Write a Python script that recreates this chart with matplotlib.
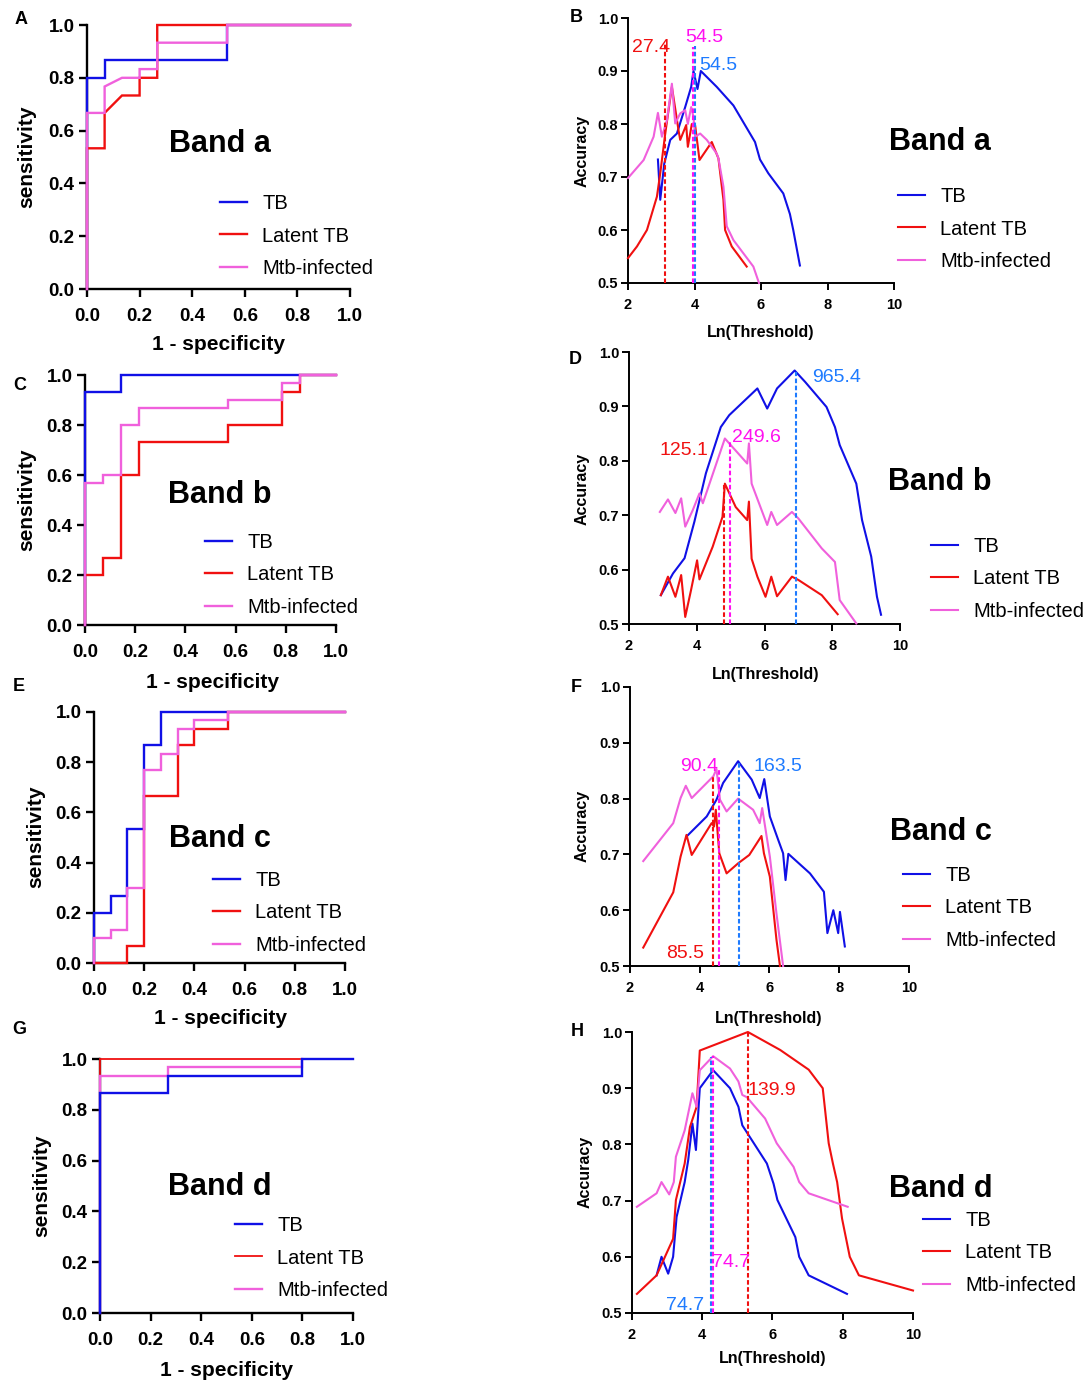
import matplotlib
matplotlib.use('Agg')
import matplotlib.pyplot as plt

plt.rcParams['font.family'] = ['Liberation Sans', 'DejaVu Sans']

# ---------------- data ----------------
groups = ['TB', 'Latent TB', 'Mtb-infected']
band_names = ['Band a', 'Band b', 'Band c', 'Band d']

# ROC curves (1 - specificity, sensitivity)
rocA_TB_x = [0, 0, 0.067, 0.067, 0.533, 0.533, 1.0]
rocA_TB_y = [0, 0.8, 0.8, 0.867, 0.867, 1.0, 1.0]
rocA_LTB_x = [0, 0, 0.067, 0.067, 0.133, 0.2, 0.2, 0.267, 0.267, 1.0]
rocA_LTB_y = [0, 0.533, 0.533, 0.667, 0.733, 0.733, 0.8, 0.8, 1.0, 1.0]
rocA_MTB_x = [0, 0, 0.067, 0.067, 0.133, 0.2, 0.2, 0.267, 0.267, 0.533, 0.533, 1.0]
rocA_MTB_y = [0, 0.667, 0.667, 0.767, 0.8, 0.8, 0.833, 0.833, 0.933, 0.933, 1.0, 1.0]

rocB_TB_x = [0, 0, 0.143, 0.143, 1.0]
rocB_TB_y = [0, 0.933, 0.933, 1.0, 1.0]
rocB_LTB_x = [0, 0, 0.071, 0.071, 0.143, 0.143, 0.214, 0.214, 0.571, 0.571, 0.786, 0.786, 0.857, 0.857, 1.0]
rocB_LTB_y = [0, 0.2, 0.2, 0.267, 0.267, 0.6, 0.6, 0.733, 0.733, 0.8, 0.8, 0.933, 0.933, 1.0, 1.0]
rocB_MTB_x = [0, 0, 0.071, 0.071, 0.143, 0.143, 0.214, 0.214, 0.571, 0.571, 0.786, 0.786, 0.857, 0.857, 1.0]
rocB_MTB_y = [0, 0.567, 0.567, 0.6, 0.6, 0.8, 0.8, 0.867, 0.867, 0.9, 0.9, 0.967, 0.967, 1.0, 1.0]

rocC_TB_x = [0, 0, 0.067, 0.067, 0.133, 0.133, 0.2, 0.2, 0.267, 0.267, 1.0]
rocC_TB_y = [0, 0.2, 0.2, 0.267, 0.267, 0.533, 0.533, 0.867, 0.867, 1.0, 1.0]
rocC_LTB_x = [0, 0.133, 0.133, 0.2, 0.2, 0.333, 0.333, 0.4, 0.4, 0.533, 0.533, 1.0]
rocC_LTB_y = [0, 0, 0.067, 0.067, 0.667, 0.667, 0.867, 0.867, 0.933, 0.933, 1.0, 1.0]
rocC_MTB_x = [0, 0, 0.067, 0.067, 0.133, 0.133, 0.2, 0.2, 0.267, 0.267, 0.333, 0.333, 0.4, 0.4, 0.533, 0.533, 1.0]
rocC_MTB_y = [0, 0.1, 0.1, 0.133, 0.133, 0.3, 0.3, 0.767, 0.767, 0.833, 0.833, 0.933, 0.933, 0.967, 0.967, 1.0, 1.0]

rocD_TB_x = [0, 0, 0.267, 0.267, 0.8, 0.8, 1.0]
rocD_TB_y = [0, 0.867, 0.867, 0.933, 0.933, 1.0, 1.0]
rocD_LTB_x = [0, 0, 0.8]
rocD_LTB_y = [0, 1.0, 1.0]
rocD_MTB_x = [0, 0, 0.267, 0.267, 0.8, 0.8]
rocD_MTB_y = [0, 0.933, 0.933, 0.967, 0.967, 1.0]

# Accuracy vs Ln(Threshold)
accA_TB_x = [2.9, 2.97, 3.09, 3.27, 3.47, 3.72, 3.9, 3.97, 4.09, 4.19, 4.67, 5.17, 5.82, 5.97, 6.22, 6.67, 6.87, 6.97, 7.17]
accA_TB_y = [0.733, 0.657, 0.725, 0.77, 0.782, 0.832, 0.87, 0.9, 0.866, 0.9, 0.87, 0.835, 0.766, 0.733, 0.707, 0.669, 0.63, 0.6, 0.533]
accA_LTB_x = [2.0, 2.27, 2.57, 2.87, 2.97, 3.12, 3.32, 3.52, 3.57, 3.75, 3.8, 3.92, 4.02, 4.15, 4.52, 4.72, 4.87, 4.92, 5.12, 5.57]
accA_LTB_y = [0.547, 0.569, 0.6, 0.663, 0.707, 0.782, 0.87, 0.788, 0.77, 0.798, 0.757, 0.8, 0.797, 0.732, 0.766, 0.735, 0.657, 0.6, 0.569, 0.531]
accA_MTB_x = [2.0, 2.47, 2.77, 2.9, 3.02, 3.17, 3.32, 3.42, 3.57, 3.72, 3.8, 3.9, 3.97, 4.02, 4.17, 4.37, 4.67, 4.72, 4.87, 4.97, 5.17, 5.77, 5.94]
accA_MTB_y = [0.698, 0.732, 0.776, 0.821, 0.776, 0.807, 0.876, 0.801, 0.82, 0.826, 0.8, 0.832, 0.813, 0.776, 0.782, 0.77, 0.744, 0.735, 0.682, 0.607, 0.581, 0.531, 0.5]

accB_TB_x = [2.94, 3.30, 3.64, 3.93, 4.27, 4.71, 4.96, 5.79, 6.08, 6.37, 6.89, 7.2, 7.83, 8.08, 8.22, 8.71, 8.88, 9.15, 9.32, 9.44]
accB_TB_y = [0.553, 0.593, 0.621, 0.688, 0.777, 0.862, 0.884, 0.933, 0.896, 0.933, 0.966, 0.945, 0.899, 0.862, 0.829, 0.758, 0.691, 0.624, 0.55, 0.517]
accB_LTB_x = [2.94, 3.15, 3.37, 3.54, 3.66, 3.83, 4.01, 4.08, 4.47, 4.76, 4.83, 5.15, 5.49, 5.54, 5.62, 5.79, 6.03, 6.2, 6.37, 6.81, 7.0, 7.69, 8.16]
accB_LTB_y = [0.553, 0.587, 0.55, 0.59, 0.513, 0.562, 0.617, 0.582, 0.642, 0.697, 0.758, 0.715, 0.691, 0.725, 0.62, 0.587, 0.55, 0.587, 0.551, 0.587, 0.581, 0.553, 0.518]
accB_MTB_x = [2.91, 3.15, 3.37, 3.54, 3.66, 3.88, 4.08, 4.18, 4.83, 5.49, 5.54, 5.62, 6.08, 6.2, 6.37, 6.81, 7.0, 7.69, 8.08, 8.22, 8.71]
accB_MTB_y = [0.706, 0.729, 0.704, 0.731, 0.679, 0.709, 0.74, 0.722, 0.841, 0.795, 0.832, 0.758, 0.682, 0.706, 0.682, 0.706, 0.694, 0.639, 0.614, 0.544, 0.501]

accC_TB_x = [3.62, 4.2, 4.48, 4.67, 5.1, 5.49, 5.72, 5.85, 6.01, 6.25, 6.39, 6.46, 6.54, 7.16, 7.56, 7.66, 7.83, 7.97, 8.02, 8.16]
accC_TB_y = [0.732, 0.768, 0.798, 0.828, 0.867, 0.834, 0.801, 0.835, 0.768, 0.726, 0.702, 0.654, 0.701, 0.666, 0.633, 0.559, 0.6, 0.559, 0.597, 0.535]
accC_LTB_x = [2.38, 3.24, 3.45, 3.62, 3.77, 4.1, 4.34, 4.41, 4.46, 4.56, 4.77, 5.1, 5.42, 5.77, 5.84, 6.01, 6.2, 6.3]
accC_LTB_y = [0.533, 0.632, 0.696, 0.735, 0.699, 0.732, 0.756, 0.75, 0.78, 0.702, 0.666, 0.684, 0.699, 0.733, 0.702, 0.66, 0.547, 0.5]
accC_MTB_x = [2.38, 3.24, 3.45, 3.6, 3.77, 4.39, 4.48, 4.58, 4.77, 5.1, 5.53, 5.72, 5.79, 6.01, 6.2, 6.39]
accC_MTB_y = [0.688, 0.756, 0.801, 0.823, 0.801, 0.84, 0.853, 0.798, 0.777, 0.8, 0.78, 0.756, 0.783, 0.696, 0.594, 0.5]

accD_TB_x = [2.7, 2.84, 3.03, 3.17, 3.27, 3.5, 3.6, 3.72, 3.82, 3.93, 4.31, 4.79, 5.03, 5.14, 5.84, 6.03, 6.14, 6.65, 6.76, 7.03, 8.12]
accD_TB_y = [0.567, 0.6, 0.57, 0.6, 0.671, 0.733, 0.772, 0.837, 0.79, 0.9, 0.932, 0.9, 0.867, 0.834, 0.766, 0.73, 0.701, 0.635, 0.6, 0.567, 0.534]
accD_LTB_x = [2.14, 2.7, 3.17, 3.25, 3.5, 3.65, 3.84, 3.93, 5.3, 6.22, 7.03, 7.43, 7.6, 7.72, 7.84, 7.98, 8.2, 8.46, 10.0]
accD_LTB_y = [0.534, 0.567, 0.632, 0.701, 0.766, 0.831, 0.867, 0.967, 1.0, 0.968, 0.933, 0.9, 0.802, 0.766, 0.733, 0.668, 0.6, 0.567, 0.54]
accD_MTB_x = [2.14, 2.7, 2.84, 3.06, 3.19, 3.25, 3.5, 3.72, 3.84, 3.93, 4.31, 4.79, 5.03, 5.14, 5.27, 5.79, 6.12, 6.6, 6.76, 7.03, 8.14]
accD_MTB_y = [0.689, 0.713, 0.733, 0.711, 0.733, 0.778, 0.825, 0.891, 0.867, 0.932, 0.957, 0.935, 0.912, 0.888, 0.884, 0.846, 0.802, 0.76, 0.733, 0.713, 0.689]

# optimal cut-offs (order: TB, Latent TB, Mtb-infected)
cutA_x = [4.03, 3.11, 3.95]
cutA_top = [0.948, 0.951, 0.946]
cutA_text = ['54.5', '27.4', '54.5']
cutB_x = [6.94, 4.81, 4.98]
cutB_top = [0.963, 0.755, 0.838]
cutB_text = ['965.4', '125.1', '249.6']
cutC_x = [5.12, 4.39, 4.54]
cutC_top = [0.867, 0.843, 0.853]
cutC_text = ['163.5', '85.5', '90.4']
cutD_x = [4.26, 5.3, 4.3]
cutD_top = [0.956, 1.0, 0.957]
cutD_text = ['74.7', '139.9', '74.7']

roc_sets = [
    [(rocA_TB_x, rocA_TB_y), (rocA_LTB_x, rocA_LTB_y), (rocA_MTB_x, rocA_MTB_y)],
    [(rocB_TB_x, rocB_TB_y), (rocB_LTB_x, rocB_LTB_y), (rocB_MTB_x, rocB_MTB_y)],
    [(rocC_TB_x, rocC_TB_y), (rocC_LTB_x, rocC_LTB_y), (rocC_MTB_x, rocC_MTB_y)],
    [(rocD_TB_x, rocD_TB_y), (rocD_LTB_x, rocD_LTB_y), (rocD_MTB_x, rocD_MTB_y)],
]
acc_sets = [
    [(accA_TB_x, accA_TB_y), (accA_LTB_x, accA_LTB_y), (accA_MTB_x, accA_MTB_y)],
    [(accB_TB_x, accB_TB_y), (accB_LTB_x, accB_LTB_y), (accB_MTB_x, accB_MTB_y)],
    [(accC_TB_x, accC_TB_y), (accC_LTB_x, accC_LTB_y), (accC_MTB_x, accC_MTB_y)],
    [(accD_TB_x, accD_TB_y), (accD_LTB_x, accD_LTB_y), (accD_MTB_x, accD_MTB_y)],
]
cut_sets = [
    (cutA_x, cutA_top, cutA_text),
    (cutB_x, cutB_top, cutB_text),
    (cutC_x, cutC_top, cutC_text),
    (cutD_x, cutD_top, cutD_text),
]

# ---------------- style / layout ----------------
line_colors = ['#1010E6', '#F01010', '#F060DC']
cut_colors = ['#1E7BFF', '#F01010', '#FF10F0']

W, H = 1086, 1381
fig = plt.figure(figsize=(W / 100, H / 100), dpi=100)

def px_axes(x0, x1, ytop, ybot):
    return fig.add_axes([x0 / W, 1 - ybot / H, (x1 - x0) / W, (ybot - ytop) / H])

def fx(x):
    return x / W

def fy(y):
    return 1 - y / H

roc_rects = [(87, 350, 25, 289), (85, 336, 375, 625), (94, 345, 712, 963), (100, 353, 1059, 1313)]
acc_rects = [(628, 894, 18, 283), (629, 900, 352, 624), (630, 909, 687, 966), (632, 913, 1032, 1313)]

roc_order = [[0, 1, 2], [0, 1, 2], [0, 1, 2], [1, 2, 0]]
roc_band_pos = [(220, 152), (220, 503), (220, 847), (220, 1195)]
roc_leg_pos = [(220, 236), (205, 575), (213, 913), (235, 1258)]
roc_ylab = [(27, 157), (27, 500), (36, 837), (42, 1186)]
roc_xlab = [(218, 345), (212, 682), (220, 1019), (227, 1370)]
roc_letters = [('A', 21, 19), ('C', 20, 386), ('E', 19, 687), ('G', 19, 1030)]

acc_band_pos = [(940, 150), (940, 490), (941, 840), (941, 1197)]
acc_leg_pos = [(898, 229), (931, 579), (903, 908), (923, 1253)]
acc_ylab = [(582, 151), (582, 489), (582, 826), (585, 1172)]
acc_xlab = [(761, 333), (766, 674), (769, 1018), (773, 1359)]
acc_letters = [('B', 576, 18), ('D', 575, 359), ('F', 576, 688), ('H', 577, 1031)]
cut_label_pos = [
    [(4.14, 0.902), (2.12, 0.936), (3.71, 0.955)],
    [(7.41, 0.945), (2.91, 0.81), (5.05, 0.835)],
    [(5.53, 0.849), (3.03, 0.514), (3.43, 0.849)],
    [(2.96, 0.505), (5.3, 0.888), (4.27, 0.582)],
]

def add_legend(ax, handles, pos):
    fig.legend(handles, groups, loc='center left',
               bbox_to_anchor=(fx(pos[0]), fy(pos[1])), bbox_transform=fig.transFigure,
               frameon=False, fontsize=14.5, handlelength=1.35, handletextpad=0.75,
               labelspacing=0.67, borderpad=0, borderaxespad=0)

# ---------------- ROC panels ----------------
for i in range(4):
    ax = px_axes(*roc_rects[i])
    handles = [None] * 3
    for g in roc_order[i]:
        xs, ys = roc_sets[i][g]
        lw = 1.3 if (i == 3 and g == 1) else 1.7
        ln, = ax.plot(xs, ys, color=line_colors[g], lw=lw, clip_on=False,
                      solid_joinstyle='miter', zorder=3)
        handles[g] = ln
    ax.set_xlim(0, 1)
    ax.set_ylim(0, 1)
    ticks = [0, 0.2, 0.4, 0.6, 0.8, 1.0]
    ax.set_xticks(ticks, ['%.1f' % t for t in ticks], fontsize=13.5, fontweight='bold')
    ax.set_yticks(ticks, ['%.1f' % t for t in ticks], fontsize=13.5, fontweight='bold')
    for s in ['top', 'right']:
        ax.spines[s].set_visible(False)
    for s in ['left', 'bottom']:
        ax.spines[s].set_linewidth(1.7)
    ax.tick_params(direction='out', length=6, width=1.7)
    ax.tick_params(axis='x', pad=8)
    ax.tick_params(axis='y', pad=3)
    fig.text(fx(roc_ylab[i][0]), fy(roc_ylab[i][1]), 'sensitivity', rotation=90,
             ha='center', va='center', fontsize=15, fontweight='bold')
    fig.text(fx(roc_xlab[i][0]), fy(roc_xlab[i][1]), '1 - specificity',
             ha='center', va='center', fontsize=15, fontweight='bold')
    fig.text(fx(roc_band_pos[i][0]), fy(roc_band_pos[i][1]), band_names[i],
             ha='center', va='baseline', fontsize=22, fontweight='bold')
    lt, lx, ly = roc_letters[i]
    fig.text(fx(lx), fy(ly), lt, ha='center', va='center', fontsize=13, fontweight='bold')
    add_legend(ax, handles, roc_leg_pos[i])

# ---------------- Accuracy panels ----------------
for i in range(4):
    ax = px_axes(*acc_rects[i])
    handles = []
    for g in range(3):
        xs, ys = acc_sets[i][g]
        ln, = ax.plot(xs, ys, color=line_colors[g], lw=1.5, clip_on=False, zorder=3)
        handles.append(ln)
    cx, ctop, ctext = cut_sets[i]
    for g in range(3):
        ax.vlines(cx[g], 0.5, ctop[g], colors=cut_colors[g], linestyles=(0, (2.2, 1.2)),
                  lw=1.5, zorder=4, clip_on=False)
        tx, ty = cut_label_pos[i][g]
        ax.text(tx, ty, ctext[g], color=cut_colors[g], fontsize=14, ha='left', va='baseline',
                zorder=5)
    ax.set_xlim(2, 10)
    ax.set_ylim(0.5, 1.0)
    xt = [2, 4, 6, 8, 10]
    yt = [0.5, 0.6, 0.7, 0.8, 0.9, 1.0]
    ax.set_xticks(xt, [str(t) for t in xt], fontsize=10.5, fontweight='bold')
    ax.set_yticks(yt, ['%.1f' % t for t in yt], fontsize=10.5, fontweight='bold')
    for s in ['top', 'right']:
        ax.spines[s].set_visible(False)
    for s in ['left', 'bottom']:
        ax.spines[s].set_linewidth(1.4)
    ax.tick_params(direction='out', length=5, width=1.4)
    ax.tick_params(axis='x', pad=6)
    ax.tick_params(axis='y', pad=2)
    fig.text(fx(acc_ylab[i][0]), fy(acc_ylab[i][1]), 'Accuracy', rotation=90,
             ha='center', va='center', fontsize=11.5, fontweight='bold')
    fig.text(fx(acc_xlab[i][0]), fy(acc_xlab[i][1]), 'Ln(Threshold)',
             ha='center', va='center', fontsize=11.5, fontweight='bold')
    fig.text(fx(acc_band_pos[i][0]), fy(acc_band_pos[i][1]), band_names[i],
             ha='center', va='baseline', fontsize=22, fontweight='bold')
    lt, lx, ly = acc_letters[i]
    fig.text(fx(lx), fy(ly), lt, ha='center', va='center', fontsize=13, fontweight='bold')
    add_legend(ax, handles, acc_leg_pos[i])

fig.savefig('out.png', dpi=100)
